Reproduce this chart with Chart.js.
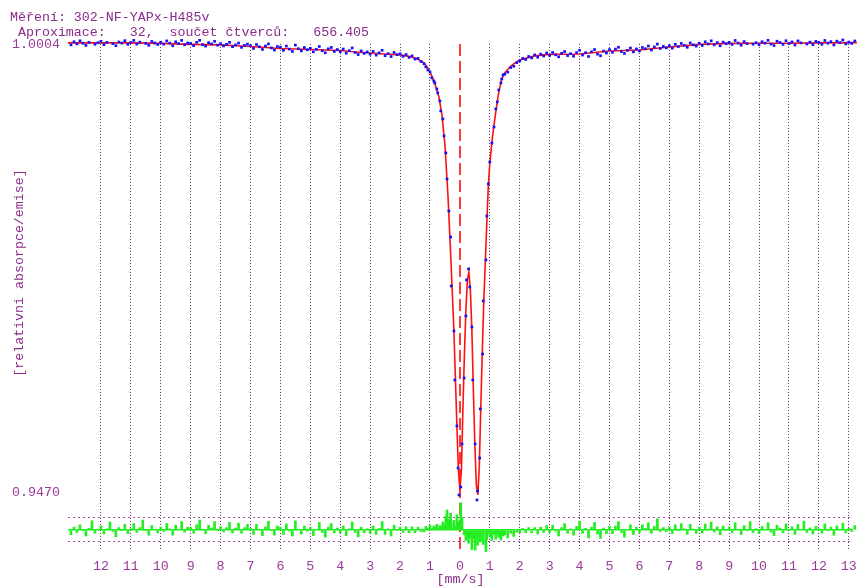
<!DOCTYPE html>
<html><head><meta charset="utf-8">
<script src="https://cdn.jsdelivr.net/npm/chart.js@4.4.1/dist/chart.umd.min.js"></script>
<style>html,body{margin:0;padding:0;background:#fff;overflow:hidden}</style>
</head><body>
<canvas id="c" width="857" height="587" style="display:block;width:857px;height:587px"></canvas>
<script>
// ---- data ----
const velocity = [
-13,-12.9,-12.8,-12.7,-12.6,-12.5,-12.4,-12.3,-12.2,-12.1,
-12,-11.9,-11.8,-11.7,-11.6,-11.5,-11.4,-11.3,-11.2,-11.1,
-11,-10.9,-10.8,-10.7,-10.6,-10.5,-10.4,-10.3,-10.2,-10.1,
-10,-9.9,-9.8,-9.7,-9.6,-9.5,-9.4,-9.3,-9.2,-9.1,
-9,-8.9,-8.8,-8.7,-8.6,-8.5,-8.4,-8.3,-8.2,-8.1,
-8,-7.9,-7.8,-7.7,-7.6,-7.5,-7.4,-7.3,-7.2,-7.1,
-7,-6.9,-6.8,-6.7,-6.6,-6.5,-6.4,-6.3,-6.2,-6.1,
-6,-5.9,-5.8,-5.7,-5.6,-5.5,-5.4,-5.3,-5.2,-5.1,
-5,-4.9,-4.8,-4.7,-4.6,-4.5,-4.4,-4.3,-4.2,-4.1,
-4,-3.9,-3.8,-3.7,-3.6,-3.5,-3.4,-3.3,-3.2,-3.1,
-3,-2.9,-2.8,-2.7,-2.6,-2.5,-2.4,-2.3,-2.2,-2.1,
-2,-1.9,-1.8,-1.7,-1.6,-1.5,-1.4,-1.3,-1.2,
-1.14,-1.07,-1,-0.94,-0.87,-0.84,-0.77,-0.74,-0.67,-0.64,
-0.57,-0.53,-0.47,-0.43,-0.37,-0.31,-0.29,-0.2,-0.17,-0.1,
-0.06,-0.03,0.03,0.07,0.14,0.2,0.22,0.29,0.33,0.4,
0.43,0.51,0.57,0.59,0.66,0.68,0.76,0.78,0.87,0.9,
0.95,1,1.07,1.14,1.2,1.25,1.3,1.37,1.4,1.44,
1.5,1.6,1.7,1.8,1.9,
2,2.1,2.2,2.3,2.4,2.5,2.6,2.7,2.8,2.9,
3,3.1,3.2,3.3,3.4,3.5,3.6,3.7,3.8,3.9,
4,4.1,4.2,4.3,4.4,4.5,4.6,4.7,4.8,4.9,
5,5.1,5.2,5.3,5.4,5.5,5.6,5.7,5.8,5.9,
6,6.1,6.2,6.3,6.4,6.5,6.6,6.7,6.8,6.9,
7,7.1,7.2,7.3,7.4,7.5,7.6,7.7,7.8,7.9,
8,8.1,8.2,8.3,8.4,8.5,8.6,8.7,8.8,8.9,
9,9.1,9.2,9.3,9.4,9.5,9.6,9.7,9.8,9.9,
10,10.1,10.2,10.3,10.4,10.5,10.6,10.7,10.8,10.9,
11,11.1,11.2,11.3,11.4,11.5,11.6,11.7,11.8,11.9,
12,12.1,12.2,12.3,12.4,12.5,12.6,12.7,12.8,12.9,
13,13.1,13.2
];

const measured = [
1.00041,1.00078,1.00052,1.00089,1.00060,1.00035,1.00071,1.00110,1.00048,1.00066,
1.00083,1.00044,1.00070,1.00103,1.00056,1.00031,1.00075,1.00062,1.00091,1.00047,
1.00069,1.00094,1.00050,1.00073,1.00112,1.00058,1.00036,1.00081,1.00063,1.00045,
1.00072,1.00049,1.00088,1.00061,1.00030,1.00077,1.00055,1.00094,1.00042,1.00063,
1.00058,1.00031,1.00070,1.00095,1.00044,1.00026,1.00067,1.00052,1.00083,1.00037,
1.00055,1.00028,1.00047,1.00071,1.00019,1.00040,1.00062,1.00011,1.00035,1.00050,
1.00030,0.99998,1.00045,1.00018,0.99986,1.00027,1.00052,1.00004,0.99979,1.00021,
1.00012,0.99975,1.00026,0.99990,0.99963,1.00038,0.99995,0.99970,1.00009,0.99982,
0.99999,0.99958,0.99988,1.00021,0.99971,0.99946,0.99993,1.00010,0.99962,0.99985,
0.99960,0.99991,0.99941,0.99972,1.00004,0.99950,0.99925,0.99968,0.99939,0.99957,
0.99929,0.99962,0.99918,0.99945,0.99976,0.99912,0.99936,0.99901,0.99950,0.99924,
0.99934,0.99903,0.99925,0.99890,0.99909,0.99871,0.99880,0.99842,0.99815,
0.99777,0.99741,0.99717,0.99646,0.99610,0.99586,0.99514,0.99467,0.99371,0.99252,
0.99156,0.98953,0.98750,0.98439,0.98057,0.97746,0.97161,0.96623,0.96038,0.95489,
0.94987,0.94664,0.94760,0.95274,0.96062,0.96803,0.97233,0.97364,0.97149,0.96671,
0.96038,0.95274,0.94605,0.94712,0.95106,0.95692,0.96349,0.96982,0.97472,0.97997,
0.98380,0.98642,0.98869,0.99060,0.99275,0.99359,0.99502,0.99586,0.99634,0.99682,
0.99690,0.99715,0.99770,0.99785,0.99828,
0.99848,0.99879,0.99866,0.99902,0.99885,0.99921,0.99893,0.99930,0.99908,0.99944,
0.99915,0.99950,0.99922,0.99898,0.99940,0.99961,0.99913,0.99935,0.99905,0.99948,
0.99976,0.99919,0.99947,0.99902,0.99958,0.99985,0.99930,0.99911,0.99966,0.99944,
0.99985,0.99952,0.99990,1.00012,0.99961,0.99938,0.99975,1.00003,0.99957,0.99992,
0.99968,1.00009,0.99994,1.00027,0.99979,1.00016,1.00050,0.99998,1.00022,1.00005,
1.00031,1.00002,1.00047,1.00020,1.00058,1.00035,1.00012,1.00064,1.00041,1.00026,
1.00060,1.00034,1.00077,1.00052,1.00089,1.00041,1.00068,1.00030,1.00074,1.00055,
1.00071,1.00046,1.00093,1.00062,1.00037,1.00080,1.00055,1.00101,1.00049,1.00066,
1.00042,1.00078,1.00061,1.00095,1.00050,1.00033,1.00084,1.00069,1.00047,1.00090,
1.00057,1.00076,1.00039,1.00088,1.00064,1.00105,1.00051,1.00073,1.00044,1.00082,
1.00070,1.00048,1.00093,1.00061,1.00079,1.00040,1.00085,1.00067,1.00099,1.00052,
1.00074,1.00058,1.00087
];

const residual = [
-1.2,0.7,-0.6,1.3,-0.2,-1.5,0.4,2.3,-0.8,0.1,
1.0,-1.0,0.3,2.0,-0.4,-1.7,0.6,-0.1,1.4,-0.9,
0.3,1.6,-0.6,0.6,2.5,-0.2,-1.3,1.1,0.2,-0.7,
0.7,-0.4,1.6,0.3,-1.3,1.2,0.1,2.1,-0.5,0.7,
0.6,-0.8,1.3,2.5,0,-0.9,1.2,0.5,2.1,-0.2,
0.8,-0.5,0.6,1.9,-0.7,0.5,1.7,-0.8,0.6,1.4,
0.4,-1.1,1.4,0.1,-1.4,0.8,2.2,-0.2,-1.3,1.0,
0.7,-1.1,1.5,-0.3,-1.5,2.3,0.2,-1.0,1.0,-0.3,
0.7,-1.4,0.2,1.9,-0.6,-1.8,0.7,1.6,-0.7,0.5,
-0.7,1.0,-1.4,0.3,2.0,-0.6,-1.7,0.7,-0.7,0.3,
-0.8,1.0,-1.1,0.4,2.1,-1.1,0.3,-1.5,1.2,0,
0.7,-0.6,0.8,-0.7,0.8,-0.7,0.7,-0.4,-0.5,
0.9,0.5,1.2,0.3,1.0,0.6,1.4,0.4,1.1,0.8,
2.0,1.3,3.5,5.0,2.6,4.2,1.8,2.4,1.0,3.8,
0.7,2.2,6.8,3.1,-1.2,-2.6,-1.5,-3.3,-1.9,-4.9,
-2.2,-5.0,-1.4,-3.8,-2.0,-3.0,-2.7,-3.6,-5.4,-2.4,
-0.8,-1.7,-2.6,-1.1,-2.3,-0.9,-1.8,-2.5,-0.7,-1.5,
-1.2,-2.0,-0.8,-1.6,-0.5,
-0.7,0.4,-0.7,0.6,-0.7,0.6,-1.0,0.7,-0.6,1.1,
-0.6,1.2,-0.3,-1.5,0.6,1.6,-0.8,0.3,-1.3,0.9,
2.2,-0.8,0.4,-2.0,0.7,1.9,-1.0,-2.1,0.5,-0.9,
0.9,-0.9,1.0,2.1,-0.6,-1.8,0.1,1.3,-1.1,0.7,
-0.6,1.3,0.4,1.8,-0.8,0.9,2.8,-0.4,0.6,-0.4,
0.8,-0.9,1.3,-0.2,1.6,0.3,-1.1,1.4,0.1,-0.8,
0.7,-0.7,1.5,0.2,2.0,-0.5,0.8,-1.2,1.0,0,
0.7,-0.6,1.8,0.2,-1.1,1.1,-0.2,2.1,-0.6,0.3,
-0.9,0.9,0.1,1.8,-0.5,-1.4,1.2,0.5,-0.7,1.5,
-0.2,0.8,-1.1,1.4,0.2,2.2,-0.6,0.5,-1.0,0.9,
0.3,-0.8,1.5,-0.2,0.7,-1.3,1.0,0.1,1.7,-0.7,
0.4,-0.4,1.1
];

const fitVelocity = [
-13.1,-12,-11,-10,-9,-8,-7,-6,-5,-4,-3.5,-3,-2.5,-2,-1.7,-1.5,-1.3,-1.2,-1.1,-1,
-0.9,-0.8,-0.7,-0.6,-0.5,-0.4,-0.3,-0.2,-0.1,-0.05,0,0.05,0.1,0.15,0.2,0.25,0.3,0.35,
0.4,0.45,0.5,0.55,0.6,0.65,0.7,0.75,0.8,0.85,0.9,0.95,1,1.1,1.2,1.3,1.4,1.5,1.6,1.7,
1.8,1.9,2,2.5,3,4,5,6,7,8,9,10,11,12,13.27
];
const fitValue = [
1.00064,1.00064,1.00064,1.00058,1.00046,1.00040,1.00022,0.99998,0.99986,0.99974,
0.99956,0.99944,0.99932,0.99921,0.99903,0.99885,0.99849,0.99825,0.99777,0.99717,
0.99634,0.99538,0.99419,0.99204,0.98845,0.98248,0.97472,0.96623,0.95489,0.94963,
0.94724,0.94963,0.95680,0.96337,0.96874,0.97233,0.97328,0.97113,0.96635,0.95919,
0.95262,0.94784,0.94664,0.95023,0.95739,0.96396,0.96994,0.97448,0.97926,0.98356,
0.98630,0.98977,0.99240,0.99479,0.99634,0.99706,0.99747,0.99783,0.99813,0.99837,
0.99861,0.99909,0.99927,0.99932,0.99968,0.99980,1.00016,1.00046,1.00058,1.00060,
1.00060,1.00064,1.00067
];

const xTickValues = [-12,-11,-10,-9,-8,-7,-6,-5,-4,-3,-2,-1,0,1,2,3,4,5,6,7,8,9,10,11,12,13];
const yTickValues = [1.0004, 0.9470];
const residualLines = [-3, 0, 3];

const titleText = 'Měření: 302-NF-YAPx-H485v';
const subtitleText = ' Aproximace:   32,  součet čtverců:   656.405';
const yTitleText = '[relativni absorpce/emise]';
const xTitleText = '[mm/s]';

// ---- chart ----
const FONT = "'Liberation Mono', 'DejaVu Sans Mono', monospace";
const TXT = '#8a2c8a';
const TICK = '#9a3a9a';
const isZero = c => c && c.tick && c.tick.value === 0;

new Chart(document.getElementById('c'), {
  type: 'scatter',
  data: {
    datasets: [
      {
        label: 'měření',
        data: velocity.map((v, i) => ({ x: v, y: measured[i] })),
        yAxisID: 'y',
        pointStyle: 'rect',
        pointRadius: 1.9,
        backgroundColor: '#1010ff',
        borderWidth: 0,
        showLine: false,
        clip: false
      },
      {
        type: 'line',
        label: 'fit',
        data: fitVelocity.map((v, i) => ({ x: v, y: fitValue[i] })),
        yAxisID: 'y',
        borderColor: '#ff1010',
        borderWidth: 1.6,
        pointRadius: 0,
        tension: 0,
        fill: false,
        clip: false
      },
      {
        type: 'bar',
        label: 'rezidua',
        data: velocity.map((v, i) => ({ x: v, y: residual[i] })),
        yAxisID: 'yR',
        backgroundColor: '#22ee22',
        borderWidth: 0,
        barThickness: 2,
        clip: false
      }
    ]
  },
  options: {
    responsive: false,
    devicePixelRatio: 1,
    animation: false,
    events: [],
    layout: { padding: { left: 10, right: 0, top: 0, bottom: 0 } },
    plugins: {
      legend: { display: false },
      tooltip: { enabled: false },
      title: {
        display: true, text: titleText, align: 'start', color: TXT,
        font: { family: FONT, size: 13.3, weight: 'normal' },
        padding: { top: 9, bottom: 0 }
      },
      subtitle: {
        display: true, text: subtitleText, align: 'start', color: TXT,
        font: { family: FONT, size: 13.3, weight: 'normal' },
        padding: { top: 0, bottom: 3 }
      }
    },
    scales: {
      x: {
        type: 'linear', min: -13.1, max: 13.14, offset: false,
        afterBuildTicks: s => { s.ticks = xTickValues.map(v => ({ value: v })); },
        ticks: {
          autoSkip: false, maxRotation: 0, color: TICK, padding: 8,
          font: { family: FONT, size: 13.3 },
          callback: v => String(Math.abs(v))
        },
        grid: {
          offset: false, drawTicks: false,
          color: c => isZero(c) ? '#ff3a3a' : '#64246a',
          lineWidth: c => isZero(c) ? 2 : 1
        },
        border: { display: false, dash: c => isZero(c) ? [12, 5] : [1, 2] },
        title: {
          display: true, text: xTitleText, color: TXT,
          font: { family: FONT, size: 13.3 }, padding: { top: 0, bottom: 0 }
        },
        afterFit: s => { s.height = 37; s.paddingLeft = 0; s.paddingRight = 0; }
      },
      y: {
        type: 'linear', position: 'left', min: 0.94007, max: 1.00052,
        afterBuildTicks: s => { s.ticks = yTickValues.map(v => ({ value: v })); },
        ticks: {
          color: TICK, padding: 8, font: { family: FONT, size: 13.3 },
          callback: v => Number(v).toFixed(4)
        },
        grid: { display: false, drawTicks: false },
        border: { display: false },
        title: {
          display: true, text: '      ' + yTitleText, color: TXT,
          font: { family: FONT, size: 13.3 }, padding: { top: 1, bottom: 0 }
        },
        afterFit: s => { s.width = 58; s.paddingTop = 0; s.paddingBottom = 0; }
      },
      yR: {
        type: 'linear', position: 'right', min: -5, max: 121.5,
        afterBuildTicks: s => { s.ticks = residualLines.map(v => ({ value: v })); },
        ticks: { display: false },
        grid: {
          drawTicks: false,
          color: c => isZero(c) ? '#22ee22' : '#a452a4',
          lineWidth: c => isZero(c) ? 1.5 : 1
        },
        border: { display: false, dash: c => isZero(c) ? [] : [2, 3] },
        afterFit: s => { s.width = 0; s.paddingTop = 0; s.paddingBottom = 0; }
      }
    }
  }
});
</script>
</body></html>
